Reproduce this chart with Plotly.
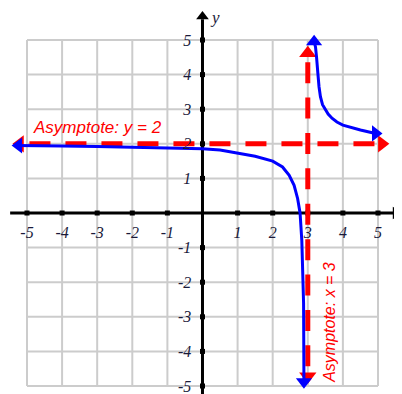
import plotly.graph_objects as go

# --- data ---
tick_vals = [-5, -4, -3, -2, -1, 1, 2, 3, 4, 5]
tick_text = ["-5", "-4", "-3", "-2", "-1", "1", "2", "3", "4", "5"]
grid_vals = [-5, -4, -3, -2, -1, 0, 1, 2, 3, 4, 5]

asym_x = 3
asym_y = 2

# left branch (x < 3)
left_x = [-5.3, -5, -4, -3, -2, -1, 0, 0.5, 1, 1.5, 2, 2.28, 2.47, 2.61, 2.71, 2.78, 2.83, 2.86, 2.88, 2.89]
left_y = [1.95, 1.95, 1.94, 1.92, 1.9, 1.88, 1.86, 1.82, 1.74, 1.64, 1.5, 1.33, 1.09, 0.8, 0.42, 0.0, -0.8, -1.6, -2.6, -4.8]

# right branch (x > 3)
right_x = [3.18, 3.22, 3.25, 3.27, 3.29, 3.32, 3.36, 3.42, 3.5, 3.58, 3.69, 3.83, 4.0, 4.25, 4.5, 4.93]
right_y = [4.95, 4.8, 4.5, 4.33, 4.0, 3.65, 3.36, 3.13, 2.98, 2.86, 2.74, 2.63, 2.54, 2.46, 2.4, 2.3]

BLUE = "#0000ff"
RED = "#ff0000"
GRID = "#cccccc"
LABEL = "#1a1a3a"

fig = go.Figure()

# --- grid, only over -5..5 ---
for g in grid_vals:
    fig.add_shape(type="line", x0=g, x1=g, y0=-5, y1=5, xref="x", yref="y",
                  line=dict(color=GRID, width=2), layer="below")
    fig.add_shape(type="line", x0=-5, x1=5, y0=g, y1=g, xref="x", yref="y",
                  line=dict(color=GRID, width=2), layer="below")

# --- axes with arrows ---
fig.add_trace(go.Scatter(x=[-5.48, 5.5], y=[0, 0], mode="lines",
                         line=dict(color="black", width=3), hoverinfo="skip"))
fig.add_trace(go.Scatter(x=[0, 0], y=[-5.4, 5.6], mode="lines",
                         line=dict(color="black", width=3), hoverinfo="skip"))
fig.add_trace(go.Scatter(x=[5.5, 0], y=[0, 5.68], mode="markers",
                         marker=dict(symbol=["triangle-right", "triangle-up"], size=11, color="black"),
                         hoverinfo="skip"))
# small tick squares on the axes
fig.add_trace(go.Scatter(x=tick_vals + [0] * len(tick_vals),
                         y=[0] * len(tick_vals) + tick_vals, mode="markers",
                         marker=dict(symbol="square", size=5, color="black"), hoverinfo="skip"))

# --- asymptotes (red dashed) ---
fig.add_trace(go.Scatter(x=[-4.93, 4.99], y=[asym_y, asym_y], mode="lines",
                         line=dict(color=RED, width=5, dash="21px,15px"), hoverinfo="skip"))
fig.add_trace(go.Scatter(x=[asym_x, asym_x], y=[4.36, -4.55], mode="lines",
                         line=dict(color=RED, width=5, dash="21px,14.4px"), hoverinfo="skip"))
fig.add_trace(go.Scatter(x=[-5.2, 5.11, asym_x, asym_x], y=[asym_y, asym_y, 4.62, -4.72], mode="markers",
                         marker=dict(symbol=["triangle-left", "triangle-right", "triangle-up", "triangle-down"],
                                     size=15, color=RED), hoverinfo="skip"))

# --- the curve ---
fig.add_trace(go.Scatter(x=left_x, y=left_y, mode="lines",
                         line=dict(color=BLUE, width=3), hoverinfo="skip"))
fig.add_trace(go.Scatter(x=right_x, y=right_y, mode="lines",
                         line=dict(color=BLUE, width=3), hoverinfo="skip"))
fig.add_trace(go.Scatter(x=[-5.24, 2.89, 3.18, 4.93], y=[1.95, -4.88, 4.95, 2.3], mode="markers",
                         marker=dict(symbol=["triangle-left", "triangle-down", "triangle-up", "triangle-right"],
                                     size=14, color=BLUE), hoverinfo="skip"))

# --- labels ---
fig.add_annotation(x=-3.0, y=2.47, text="Asymptote: y = 2", showarrow=False,
                   font=dict(family="Liberation Sans", size=17, color=RED, style="italic"))
fig.add_annotation(x=3.6, y=-3.15, text="Asymptote: x = 3", showarrow=False, textangle=-90,
                   font=dict(family="Liberation Sans", size=16, color=RED, style="italic"))
fig.add_annotation(x=5.57, y=0.46, text="x", showarrow=False,
                   font=dict(family="Liberation Serif", size=17, color=LABEL, style="italic"))
fig.add_annotation(x=0.37, y=5.66, text="y", showarrow=False,
                   font=dict(family="Liberation Serif", size=17, color=LABEL, style="italic"))

# the page adds an 8px body margin, so the figure is 8px smaller than the window
tick_font = dict(family="Liberation Serif", size=16, color=LABEL, style="italic")
fig.update_xaxes(range=[-5.541, 5.684], anchor="free", position=0.4689,
                 tickvals=tick_vals, ticktext=tick_text, tickfont=tick_font,
                 ticks="outside", ticklen=5, tickcolor="rgba(0,0,0,0)",
                 ticklabeloverflow="allow",
                 showgrid=False, zeroline=False, showline=False, automargin=False)
fig.update_yaxes(range=[-5.231, 5.925], anchor="free", position=0.4936,
                 tickvals=tick_vals, ticktext=tick_text, tickfont=tick_font,
                 ticks="outside", ticklen=8, tickcolor="rgba(0,0,0,0)",
                 ticklabeloverflow="allow",
                 showgrid=False, zeroline=False, showline=False, automargin=False)

fig.update_layout(width=394, height=386, margin=dict(l=0, r=0, t=0, b=0),
                  showlegend=False, plot_bgcolor="white", paper_bgcolor="white")

fig.write_html("out.html")
